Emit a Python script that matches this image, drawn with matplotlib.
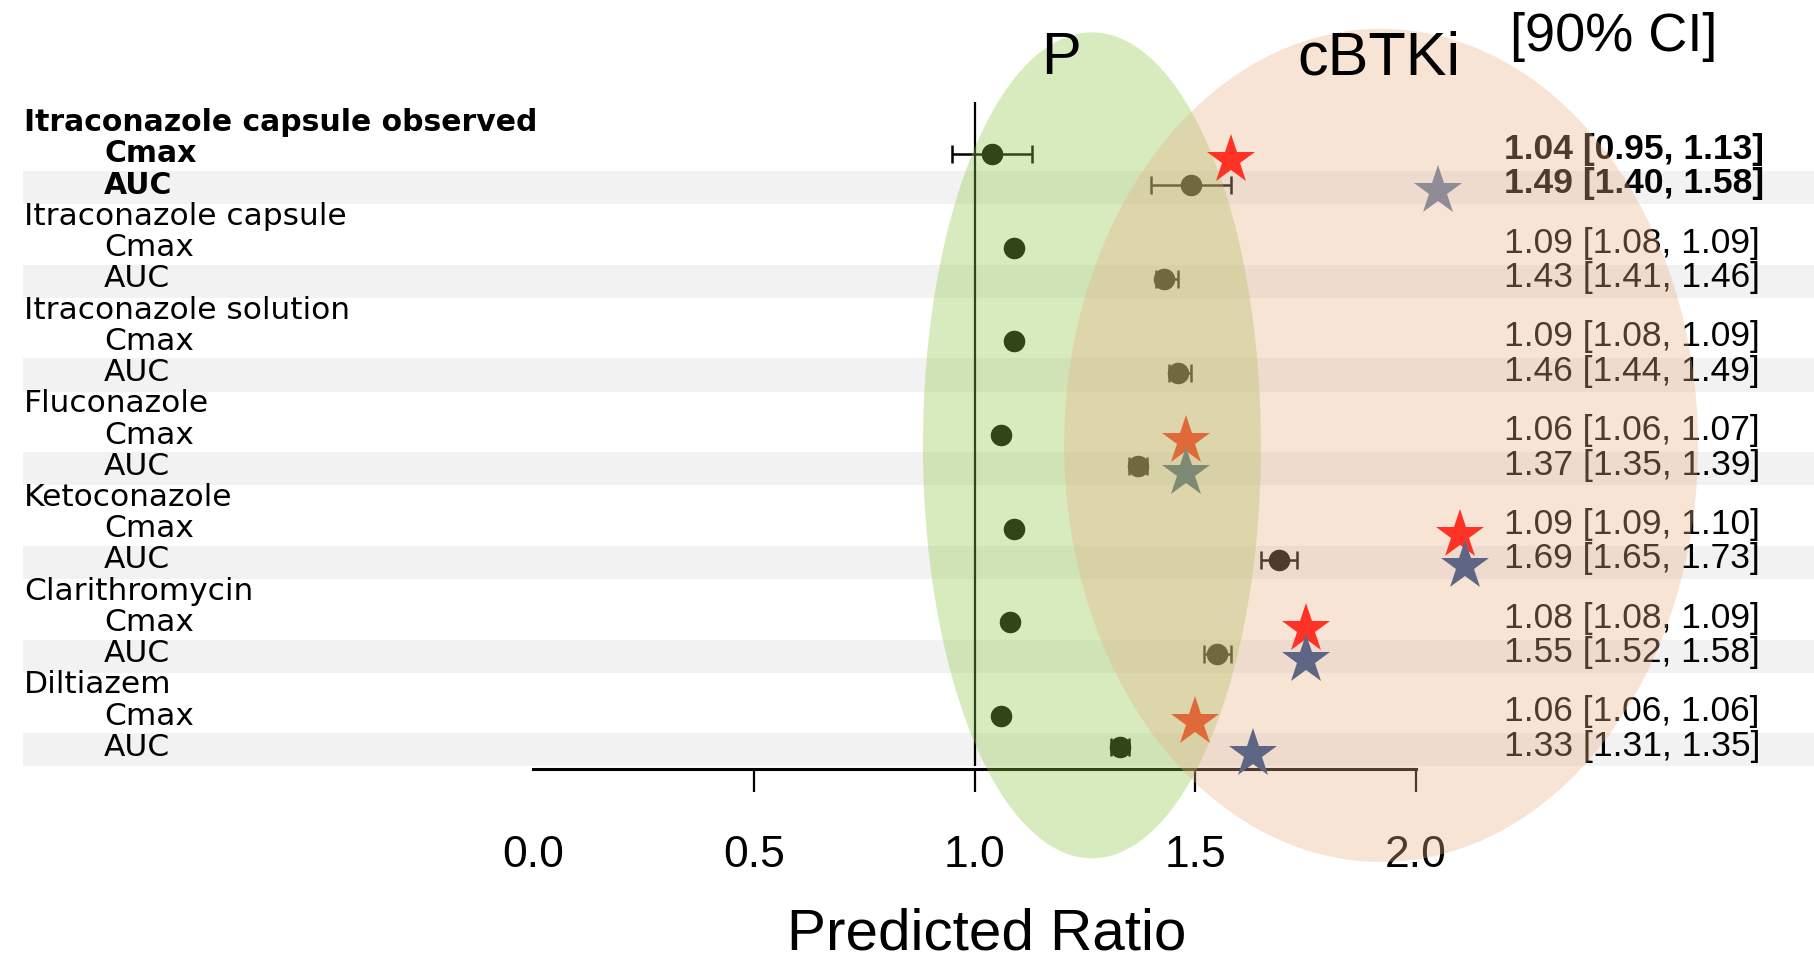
import matplotlib
matplotlib.use("Agg")
import matplotlib.pyplot as plt
from matplotlib.patches import Ellipse, Rectangle
import matplotlib.transforms as mtransforms

# ---------------- data ----------------
groups = ["Itraconazole capsule observed", "Itraconazole capsule", "Itraconazole solution",
          "Fluconazole", "Ketoconazole", "Clarithromycin", "Diltiazem"]
metrics = ["Cmax", "AUC"]

cmax_ratio = [1.04, 1.09, 1.09, 1.06, 1.09, 1.08, 1.06]
cmax_lo = [0.95, 1.08, 1.08, 1.06, 1.09, 1.08, 1.06]
cmax_hi = [1.13, 1.09, 1.09, 1.07, 1.10, 1.09, 1.06]

auc_ratio = [1.49, 1.43, 1.46, 1.37, 1.69, 1.55, 1.33]
auc_lo = [1.40, 1.41, 1.44, 1.35, 1.65, 1.52, 1.31]
auc_hi = [1.58, 1.46, 1.49, 1.39, 1.73, 1.58, 1.35]

# cBTKi reference ratios (stars)
star_group = [0, 0, 3, 3, 4, 4, 5, 5, 6, 6]
star_metric = ["Cmax", "AUC", "Cmax", "AUC", "Cmax", "AUC", "Cmax", "AUC", "Cmax", "AUC"]
star_value = [1.58, 2.05, 1.48, 1.48, 2.10, 2.11, 1.75, 1.75, 1.50, 1.63]

xticks = [0.0, 0.5, 1.0, 1.5, 2.0]
xtick_labels = ["0.0", "0.5", "1.0", "1.5", "2.0"]

# ---------------- styles ----------------
star_colors = ["#ff3325", "#8f8b97", "#e0693a", "#7f8a74", "#ff3325", "#5f6585",
               "#ff3325", "#5f6585", "#e0693a", "#5f6585"]
W, H = 1814, 961
LABEL_FONT = ["DejaVu Sans"]
NUM_FONT = ["Liberation Sans", "DejaVu Sans"]
VALUE_SHIFT = {"Cmax": -0.14, "AUC": -0.04}

fig = plt.figure(figsize=(W / 100, H / 100), dpi=100)
ax_left, ax_right = 533 / W, 1416 / W
ax_bottom, ax_top = 1 - 769.3 / H, 1 - 91.4 / H
ax = fig.add_axes([ax_left, ax_bottom, ax_right - ax_left, ax_top - ax_bottom])
ax.set_xlim(0, 2)
ax.set_ylim(20.7, -1)

blend = mtransforms.blended_transform_factory(fig.transFigure, ax.transData)


def row_of(g, m):
    return 3 * g + (1 if m == "Cmax" else 2)


# stripes behind AUC rows
for g in range(len(groups)):
    r = row_of(g, "AUC")
    ax.add_patch(Rectangle((23 / W, r - 0.45), 1 - 23 / W, 1.06, transform=blend,
                           facecolor="#f2f2f2", edgecolor="none", zorder=0, clip_on=False))

# reference line at 1.0
ax.plot([1.0, 1.0], [-0.67, 20.6], color="black", lw=1.6, zorder=1.5, solid_capstyle="butt")

# points with CI
for g in range(len(groups)):
    for m, (v, lo, hi) in zip(metrics, [(cmax_ratio[g], cmax_lo[g], cmax_hi[g]),
                                        (auc_ratio[g], auc_lo[g], auc_hi[g])]):
        r = row_of(g, m)
        ax.errorbar([v], [r], xerr=[[v - lo], [hi - v]], fmt="o", color="black",
                    markersize=14.5, elinewidth=1.8, capsize=6.5, capthick=1.8, zorder=2)

# labels (left)
for g, name in enumerate(groups):
    bold = (g == 0)
    size = 21.5 if bold else 22.5
    ax.text(24 / W, 3 * g, name, transform=blend, ha="left", va="center",
            fontsize=size, family=LABEL_FONT, fontweight="bold" if bold else "normal",
            zorder=1, clip_on=False)
    for m in metrics:
        ax.text(104 / W, row_of(g, m), m, transform=blend, ha="left", va="center",
                fontsize=size, family=LABEL_FONT, fontweight="bold" if bold else "normal",
                zorder=1, clip_on=False)

# value labels (right)
for g in range(len(groups)):
    bold = (g == 0)
    for m, (v, lo, hi) in zip(metrics, [(cmax_ratio[g], cmax_lo[g], cmax_hi[g]),
                                        (auc_ratio[g], auc_lo[g], auc_hi[g])]):
        ax.text(1504 / W, row_of(g, m) + VALUE_SHIFT[m], f"{v:.2f} [{lo:.2f}, {hi:.2f}]",
                transform=blend, ha="left", va="center", fontsize=25.5, family=NUM_FONT,
                fontweight="bold" if bold else "normal", zorder=1, clip_on=False)

# highlight ellipses
ax.add_patch(Ellipse((1.266, 10.33), 0.7656, 26.44, facecolor="#8fc847", alpha=0.35,
                     edgecolor="none", zorder=3, clip_on=False))
ax.add_patch(Ellipse((1.921, 10.33), 1.436, 26.67, facecolor="#eab086", alpha=0.34,
                     edgecolor="none", zorder=3.5, clip_on=False))

# stars
for g, m, v, c in zip(star_group, star_metric, star_value, star_colors):
    ax.plot([v], [row_of(g, m) + 0.2], marker="*", markersize=37, color=c,
            markeredgewidth=0, linestyle="none", zorder=5, clip_on=False)

# axis
for s in ["left", "top", "right"]:
    ax.spines[s].set_visible(False)
ax.spines["bottom"].set_linewidth(2.2)
ax.spines["bottom"].set_zorder(2.5)
ax.set_yticks([])
ax.set_xticks(xticks)
ax.set_xticklabels(xtick_labels, family=NUM_FONT, fontsize=32)
ax.tick_params(axis="x", direction="out", length=16.5, width=1.6, pad=31)
ax.xaxis.get_major_ticks()[0].tick1line.set_visible(False)

fig.text(987 / W, 1 - 935 / H, "Predicted Ratio", ha="center", va="center",
         fontsize=42, family=NUM_FONT)
fig.text(1061 / W, 1 - 59 / H, "P", ha="center", va="center", fontsize=43, family=NUM_FONT)
fig.text(1379 / W, 1 - 59 / H, "cBTKi", ha="center", va="center", fontsize=44, family=NUM_FONT)
fig.text(1510 / W, 1 - 37 / H, "[90% CI]", ha="left", va="center", fontsize=39, family=NUM_FONT)

fig.savefig("out.png", dpi=100, facecolor="white")
